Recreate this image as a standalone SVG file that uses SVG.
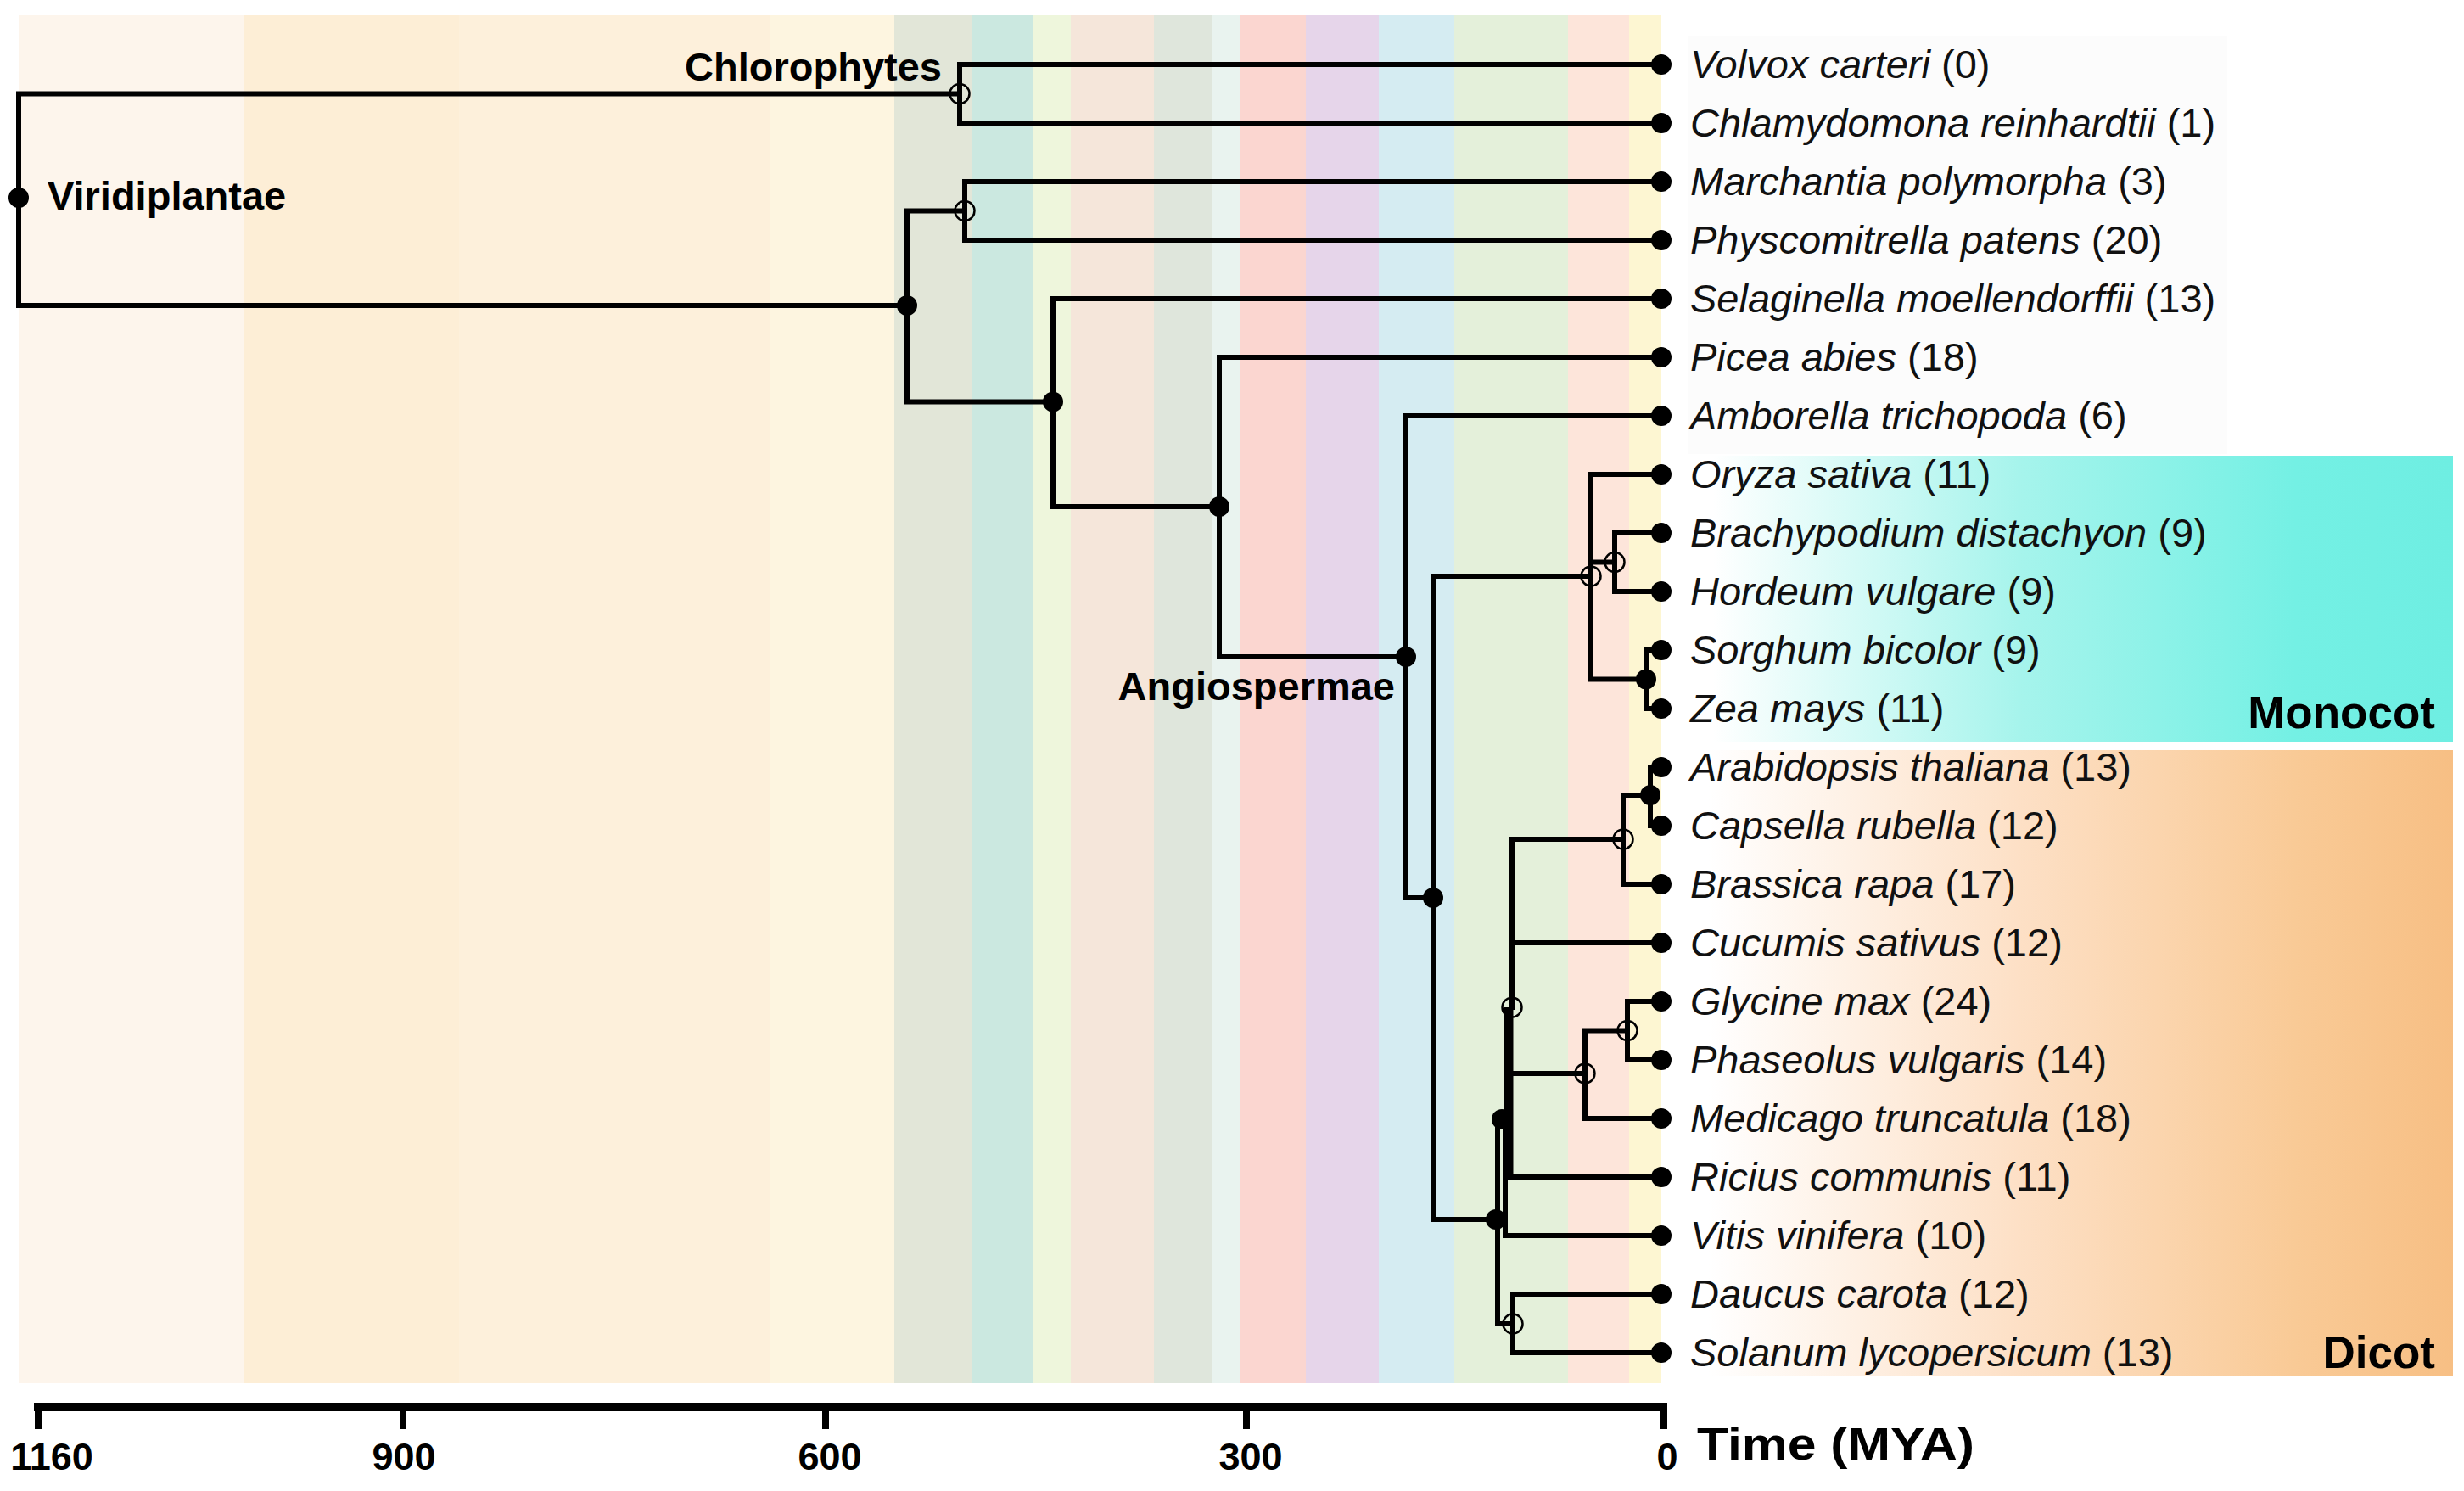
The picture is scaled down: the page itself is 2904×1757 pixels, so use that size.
<svg xmlns="http://www.w3.org/2000/svg" width="2904" height="1757" viewBox="0 0 2904 1757">
<defs>
<style>
.br{fill:none;stroke:#000;stroke-width:6;stroke-linejoin:miter;stroke-linecap:square}
.thick{fill:none;stroke:#000;stroke-width:11}
.dot{fill:#000}
.open{fill:none;stroke:#000;stroke-width:2.5}
.sp{font-family:"Liberation Sans",Arial,sans-serif;font-size:47px;fill:#111}
.sp .it{font-style:italic}
.clade{font-family:"Liberation Sans",Arial,sans-serif;font-size:47px;font-weight:bold;fill:#000}
.grp{font-family:"Liberation Sans",Arial,sans-serif;font-size:53px;font-weight:bold;fill:#000}
.tick{font-family:"Liberation Sans",Arial,sans-serif;font-size:45px;font-weight:bold;fill:#000;text-anchor:middle}
</style>
<linearGradient id="gMono" gradientUnits="userSpaceOnUse" x1="1963" y1="0" x2="2891" y2="0">
<stop offset="0" stop-color="#ffffff"/>
<stop offset="0.06" stop-color="#ffffff"/>
<stop offset="0.45" stop-color="#a6f4ec"/>
<stop offset="0.8" stop-color="#74f0e4"/>
<stop offset="1" stop-color="#6eeee2"/>
</linearGradient>
<linearGradient id="gDicot" gradientUnits="userSpaceOnUse" x1="1958" y1="0" x2="2891" y2="0">
<stop offset="0" stop-color="#ffffff"/>
<stop offset="0.06" stop-color="#ffffff"/>
<stop offset="0.45" stop-color="#fde0c6"/>
<stop offset="0.8" stop-color="#f9ca96"/>
<stop offset="1" stop-color="#f7bf84"/>
</linearGradient>
</defs>
<rect x="0" y="0" width="2904" height="1757" fill="#ffffff"/>
<g id="time-bands">
<rect x="22" y="18" width="265" height="1612" fill="#fdf5ec"/>
<rect x="287" y="18" width="254" height="1612" fill="#fdeed6"/>
<rect x="541" y="18" width="366" height="1612" fill="#fdf0db"/>
<rect x="907" y="18" width="147" height="1612" fill="#fdf5e0"/>
<rect x="1054" y="18" width="91" height="1612" fill="#e2e6d8"/>
<rect x="1145" y="18" width="72" height="1612" fill="#cbe8e0"/>
<rect x="1217" y="18" width="45" height="1612" fill="#eef6dc"/>
<rect x="1262" y="18" width="98" height="1612" fill="#f5e6da"/>
<rect x="1360" y="18" width="69" height="1612" fill="#dfe6dc"/>
<rect x="1429" y="18" width="32" height="1612" fill="#e9f3ef"/>
<rect x="1461" y="18" width="78" height="1612" fill="#fbd6d0"/>
<rect x="1539" y="18" width="86" height="1612" fill="#e6d5ea"/>
<rect x="1625" y="18" width="89" height="1612" fill="#d5ecf2"/>
<rect x="1714" y="18" width="134" height="1612" fill="#e4f0da"/>
<rect x="1848" y="18" width="72" height="1612" fill="#fde5da"/>
<rect x="1920" y="18" width="38" height="1612" fill="#fdf6d2"/>
</g>
<g id="group-boxes">
<rect x="1990" y="42" width="635" height="493" fill="#fcfcfc"/>
<rect x="1963" y="537" width="928" height="337" fill="url(#gMono)"/>
<rect x="1958" y="884" width="933" height="738" fill="url(#gDicot)"/>
<text class="grp" x="2870" y="858" text-anchor="end">Monocot</text>
<text class="grp" x="2870" y="1612" text-anchor="end">Dicot</text>
</g>
<g id="connectors">
<path class="br" d="M1131,110.5 H22 V360 H1069"/>
<path class="br" d="M1958,76 H1131 V145 H1958"/>
<path class="br" d="M1958,214 H1137 V283 H1958"/>
<path class="br" d="M1137,248.5 H1069 V473.5 H1241"/>
<path class="br" d="M1958,352 H1241 V597 H1437"/>
<path class="br" d="M1958,421 H1437 V774 H1657"/>
<path class="br" d="M1958,490 H1657 V1058 H1689"/>
<path class="br" d="M1875,679 H1689 V1437 H1763"/>
<path class="br" d="M1958,559 H1875 V800.5 H1940"/>
<path class="br" d="M1875,662.5 H1903"/>
<path class="br" d="M1958,628 H1903 V697 H1958"/>
<path class="br" d="M1958,766 H1940 V835 H1958"/>
<path class="br" d="M1770,1319 H1765 V1560 H1783"/>
<path class="br" d="M1958,1525 H1783 V1594 H1958"/>
<path class="thick" d="M1778,1187 V1385"/>
<path class="br" d="M1958,1387 H1778"/>
<path class="br" d="M1774,1319 V1456 H1958"/>
<path class="br" d="M1913,989 H1782 V1187"/>
<path class="br" d="M1782,1111 H1958"/>
<path class="br" d="M1778,1265 H1868"/>
<path class="br" d="M1945,937 H1913 V1042 H1958"/>
<path class="br" d="M1958,904 H1945 V973 H1958"/>
<path class="br" d="M1918,1214.5 H1868 V1318 H1958"/>
<path class="br" d="M1958,1180 H1918 V1249 H1958"/>
</g>
<g id="node-viridiplantae"><circle class="dot" cx="22" cy="233" r="12"/><text class="clade" x="56" y="247">Viridiplantae</text></g>
<g id="node-chlorophytes"><circle class="open" cx="1131" cy="110.5" r="11.5"/><text class="clade" x="1110" y="95" text-anchor="end">Chlorophytes</text></g>
<g id="node-bryophytes"><circle class="open" cx="1137" cy="248.5" r="11.5"/></g>
<g id="node-embryophytes"><circle class="dot" cx="1069" cy="360" r="12"/></g>
<g id="node-tracheophytes"><circle class="dot" cx="1241" cy="473.5" r="12"/></g>
<g id="node-seedplants"><circle class="dot" cx="1437" cy="597" r="12"/></g>
<g id="node-angiospermae"><circle class="dot" cx="1657" cy="774" r="12"/><text class="clade" x="1644" y="825" text-anchor="end">Angiospermae</text></g>
<g id="node-mesangiosperms"><circle class="dot" cx="1689" cy="1058" r="12"/></g>
<g id="node-monocots"><circle class="open" cx="1875" cy="679" r="11.5"/></g>
<g id="node-brachy-hordeum"><circle class="open" cx="1903" cy="662.5" r="11.5"/></g>
<g id="node-sorghum-zea"><circle class="dot" cx="1940" cy="800.5" r="12"/></g>
<g id="node-eudicots"><circle class="dot" cx="1763" cy="1437" r="12"/></g>
<g id="node-core-eudicots"><circle class="dot" cx="1770" cy="1319" r="12"/></g>
<g id="node-rosids"><circle class="open" cx="1782" cy="1187" r="11.5"/></g>
<g id="node-brassicaceae"><circle class="open" cx="1913" cy="989" r="11.5"/></g>
<g id="node-arabidopsis-capsella"><circle class="dot" cx="1945" cy="937" r="12"/></g>
<g id="node-fabaceae"><circle class="open" cx="1868" cy="1265" r="11.5"/></g>
<g id="node-glycine-phaseolus"><circle class="open" cx="1918" cy="1214.5" r="11.5"/></g>
<g id="node-asterids"><circle class="open" cx="1783" cy="1560" r="11.5"/></g>
<g id="leaf-0"><circle class="dot" cx="1958" cy="76" r="12"/><text class="sp" x="1992" y="92"><tspan class="it">Volvox carteri</tspan> (0)</text></g>
<g id="leaf-1"><circle class="dot" cx="1958" cy="145" r="12"/><text class="sp" x="1992" y="161"><tspan class="it">Chlamydomona reinhardtii</tspan> (1)</text></g>
<g id="leaf-2"><circle class="dot" cx="1958" cy="214" r="12"/><text class="sp" x="1992" y="230"><tspan class="it">Marchantia polymorpha</tspan> (3)</text></g>
<g id="leaf-3"><circle class="dot" cx="1958" cy="283" r="12"/><text class="sp" x="1992" y="299"><tspan class="it">Physcomitrella patens</tspan> (20)</text></g>
<g id="leaf-4"><circle class="dot" cx="1958" cy="352" r="12"/><text class="sp" x="1992" y="368"><tspan class="it">Selaginella moellendorffii</tspan> (13)</text></g>
<g id="leaf-5"><circle class="dot" cx="1958" cy="421" r="12"/><text class="sp" x="1992" y="437"><tspan class="it">Picea abies</tspan> (18)</text></g>
<g id="leaf-6"><circle class="dot" cx="1958" cy="490" r="12"/><text class="sp" x="1992" y="506"><tspan class="it">Amborella trichopoda</tspan> (6)</text></g>
<g id="leaf-7"><circle class="dot" cx="1958" cy="559" r="12"/><text class="sp" x="1992" y="575"><tspan class="it">Oryza sativa</tspan> (11)</text></g>
<g id="leaf-8"><circle class="dot" cx="1958" cy="628" r="12"/><text class="sp" x="1992" y="644"><tspan class="it">Brachypodium distachyon</tspan> (9)</text></g>
<g id="leaf-9"><circle class="dot" cx="1958" cy="697" r="12"/><text class="sp" x="1992" y="713"><tspan class="it">Hordeum vulgare</tspan> (9)</text></g>
<g id="leaf-10"><circle class="dot" cx="1958" cy="766" r="12"/><text class="sp" x="1992" y="782"><tspan class="it">Sorghum bicolor</tspan> (9)</text></g>
<g id="leaf-11"><circle class="dot" cx="1958" cy="835" r="12"/><text class="sp" x="1992" y="851"><tspan class="it">Zea mays</tspan> (11)</text></g>
<g id="leaf-12"><circle class="dot" cx="1958" cy="904" r="12"/><text class="sp" x="1992" y="920"><tspan class="it">Arabidopsis thaliana</tspan> (13)</text></g>
<g id="leaf-13"><circle class="dot" cx="1958" cy="973" r="12"/><text class="sp" x="1992" y="989"><tspan class="it">Capsella rubella</tspan> (12)</text></g>
<g id="leaf-14"><circle class="dot" cx="1958" cy="1042" r="12"/><text class="sp" x="1992" y="1058"><tspan class="it">Brassica rapa</tspan> (17)</text></g>
<g id="leaf-15"><circle class="dot" cx="1958" cy="1111" r="12"/><text class="sp" x="1992" y="1127"><tspan class="it">Cucumis sativus</tspan> (12)</text></g>
<g id="leaf-16"><circle class="dot" cx="1958" cy="1180" r="12"/><text class="sp" x="1992" y="1196"><tspan class="it">Glycine max</tspan> (24)</text></g>
<g id="leaf-17"><circle class="dot" cx="1958" cy="1249" r="12"/><text class="sp" x="1992" y="1265"><tspan class="it">Phaseolus vulgaris</tspan> (14)</text></g>
<g id="leaf-18"><circle class="dot" cx="1958" cy="1318" r="12"/><text class="sp" x="1992" y="1334"><tspan class="it">Medicago truncatula</tspan> (18)</text></g>
<g id="leaf-19"><circle class="dot" cx="1958" cy="1387" r="12"/><text class="sp" x="1992" y="1403"><tspan class="it">Ricius communis</tspan> (11)</text></g>
<g id="leaf-20"><circle class="dot" cx="1958" cy="1456" r="12"/><text class="sp" x="1992" y="1472"><tspan class="it">Vitis vinifera</tspan> (10)</text></g>
<g id="leaf-21"><circle class="dot" cx="1958" cy="1525" r="12"/><text class="sp" x="1992" y="1541"><tspan class="it">Daucus carota</tspan> (12)</text></g>
<g id="leaf-22"><circle class="dot" cx="1958" cy="1594" r="12"/><text class="sp" x="1992" y="1610"><tspan class="it">Solanum lycopersicum</tspan> (13)</text></g>
<g id="time-axis">
<path d="M40,1658 H1965" fill="none" stroke="#000" stroke-width="10"/>
<path d="M45,1653 V1684 M475,1653 V1684 M973,1653 V1684 M1469,1653 V1684 M1961,1653 V1684" fill="none" stroke="#000" stroke-width="8"/>
<text class="tick" x="61" y="1732">1160</text>
<text class="tick" x="476" y="1732">900</text>
<text class="tick" x="978" y="1732">600</text>
<text class="tick" x="1474" y="1732">300</text>
<text class="tick" x="1965" y="1732">0</text>
<text class="grp" x="2000" y="1720" textLength="327" lengthAdjust="spacingAndGlyphs">Time (MYA)</text>
</g>
</svg>
